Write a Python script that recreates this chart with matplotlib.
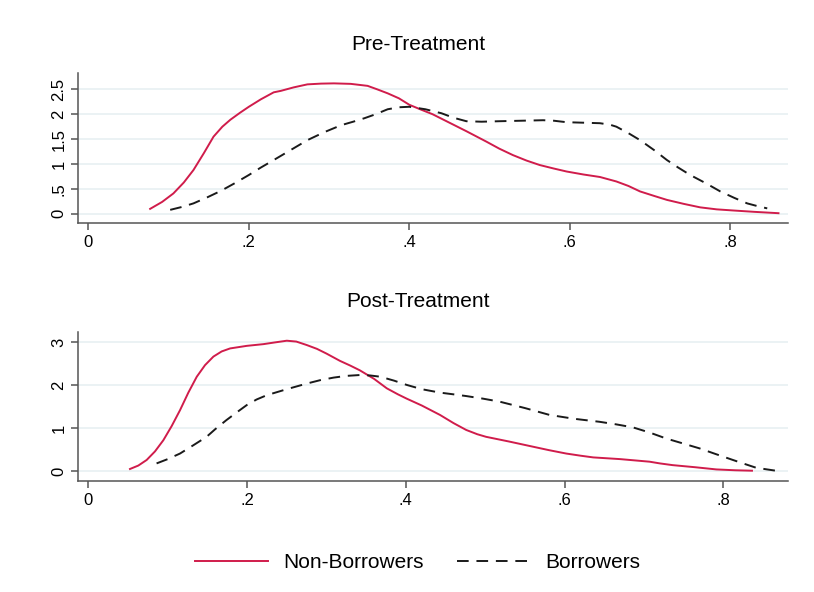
import numpy as np
import matplotlib.pyplot as plt

plt.rcParams['font.family'] = ['Liberation Sans', 'DejaVu Sans']

# Pre-Treatment densities
pre_nb_x = [0.077, 0.092, 0.106, 0.119, 0.131, 0.144, 0.156, 0.167, 0.177, 0.189, 0.200, 0.215,
            0.231, 0.240, 0.256, 0.273, 0.290, 0.306, 0.327, 0.348, 0.360, 0.373, 0.387, 0.400,
            0.415, 0.429, 0.450, 0.471, 0.496, 0.512, 0.529, 0.546, 0.5625, 0.580, 0.596, 0.617,
            0.6375, 0.658, 0.673, 0.6875, 0.705, 0.721, 0.742, 0.7625, 0.783, 0.804, 0.830, 0.860]
pre_nb_y = [0.10, 0.24, 0.41, 0.63, 0.88, 1.22, 1.55, 1.75, 1.89, 2.03, 2.15, 2.30,
            2.44, 2.47, 2.54, 2.60, 2.615, 2.62, 2.61, 2.57, 2.50, 2.42, 2.32, 2.19,
            2.09, 2.00, 1.83, 1.66, 1.45, 1.31, 1.18, 1.07, 0.98, 0.91, 0.85, 0.79,
            0.74, 0.65, 0.56, 0.45, 0.36, 0.28, 0.20, 0.13, 0.09, 0.067, 0.04, 0.013]
pre_b_x = [0.102, 0.117, 0.131, 0.148, 0.165, 0.183, 0.200, 0.215, 0.231, 0.252, 0.273, 0.294,
           0.315, 0.330, 0.344, 0.358, 0.373, 0.387, 0.400, 0.420, 0.440, 0.455, 0.471, 0.490,
           0.5125, 0.540, 0.5667, 0.580, 0.596, 0.617, 0.6375, 0.650, 0.658, 0.673, 0.6875,
           0.705, 0.721, 0.735, 0.750, 0.770, 0.7875, 0.805, 0.821, 0.835, 0.846]
pre_b_y = [0.08, 0.14, 0.21, 0.33, 0.46, 0.62, 0.78, 0.93, 1.08, 1.28, 1.48, 1.64,
           1.78, 1.85, 1.92, 2.00, 2.10, 2.14, 2.15, 2.10, 2.02, 1.93, 1.86, 1.85,
           1.86, 1.87, 1.88, 1.87, 1.84, 1.83, 1.82, 1.79, 1.75, 1.62, 1.48,
           1.28, 1.08, 0.93, 0.78, 0.61, 0.45, 0.32, 0.21, 0.15, 0.11]

# Post-Treatment densities
post_nb_x = [0.0525, 0.063, 0.0735, 0.084, 0.0945, 0.105, 0.1155, 0.126, 0.1366, 0.147, 0.1576,
             0.168, 0.1786, 0.1996, 0.2206, 0.235, 0.250, 0.262, 0.275, 0.288, 0.300, 0.317,
             0.330, 0.342, 0.360, 0.376, 0.390, 0.401, 0.420, 0.443, 0.460, 0.476, 0.490,
             0.501, 0.530, 0.560, 0.580, 0.602, 0.620, 0.636, 0.670, 0.707, 0.720, 0.736,
             0.765, 0.791, 0.815, 0.836]
post_nb_y = [0.05, 0.13, 0.26, 0.46, 0.72, 1.05, 1.42, 1.83, 2.20, 2.47, 2.67,
             2.79, 2.86, 2.92, 2.96, 3.00, 3.04, 3.02, 2.94, 2.85, 2.74, 2.57,
             2.46, 2.35, 2.15, 1.93, 1.79, 1.69, 1.53, 1.31, 1.12, 0.96, 0.86,
             0.80, 0.69, 0.57, 0.49, 0.41, 0.36, 0.32, 0.28, 0.22, 0.18, 0.14,
             0.09, 0.04, 0.02, 0.01]
post_b_x = [0.086, 0.100, 0.1155, 0.132, 0.149, 0.160, 0.174, 0.187, 0.1996, 0.212, 0.2248,
            0.250, 0.275, 0.292, 0.309, 0.325, 0.342, 0.355, 0.368, 0.385, 0.401, 0.420,
            0.443, 0.460, 0.476, 0.497, 0.518, 0.550, 0.581, 0.612, 0.644, 0.665, 0.686,
            0.707, 0.728, 0.750, 0.770, 0.790, 0.812, 0.828, 0.841, 0.855, 0.866]
post_b_y = [0.18, 0.28, 0.41, 0.60, 0.80, 0.98, 1.19, 1.37, 1.54, 1.67, 1.77,
            1.91, 2.04, 2.12, 2.18, 2.22, 2.24, 2.23, 2.20, 2.11, 2.01, 1.91,
            1.83, 1.79, 1.75, 1.69, 1.62, 1.47, 1.31, 1.22, 1.15, 1.09, 1.02,
            0.90, 0.76, 0.64, 0.53, 0.40, 0.26, 0.16, 0.08, 0.04, 0.01]

red = '#d01c4b'
axcol = '#555555'
gridcol = '#e8f0f2'

fig = plt.figure(figsize=(8.14, 5.92), dpi=100)
ax1 = fig.add_axes([0.0962, 0.6228, 0.8715, 0.2532])
ax2 = fig.add_axes([0.0962, 0.1875, 0.8715, 0.2522])

panels = [
    (ax1, pre_nb_x, pre_nb_y, pre_b_x, pre_b_y, (-0.19, 2.82), [0, 0.5, 1, 1.5, 2, 2.5],
     ['0', '.5', '1', '1.5', '2', '2.5'], (-0.0125, 0.8715)),
    (ax2, post_nb_x, post_nb_y, post_b_x, post_b_y, (-0.23, 3.25), [0, 1, 2, 3],
     ['0', '1', '2', '3'], (-0.0126, 0.881)),
]
for ax, nx, ny, bx, by, ylim, yt, ytl, xlim in panels:
    ax.plot(nx, ny, color=red, lw=1.4, label='Non-Borrowers')
    ax.plot(bx, by, color='#1a1a1a', lw=1.4, ls=(0, (6, 4)), label='Borrowers')
    ax.set_ylim(*ylim)
    ax.set_xlim(*xlim)
    ax.set_yticks(yt)
    ax.set_yticklabels(ytl, rotation=90, va='center')
    ax.set_xticks([0, 0.2, 0.4, 0.6, 0.8])
    ax.set_xticklabels(['0', '.2', '.4', '.6', '.8'])
    ax.grid(axis='y', color=gridcol, lw=1.2)
    ax.set_axisbelow(True)
    for s in ['top', 'right']:
        ax.spines[s].set_visible(False)
    for s in ['left', 'bottom']:
        ax.spines[s].set_color(axcol)
        ax.spines[s].set_linewidth(1.1)
    ax.tick_params(colors=axcol, labelcolor='black', length=5, width=1.1, labelsize=12)

fig.text(0.5135, 0.9245, 'Pre-Treatment', ha='center', va='center', fontsize=15)
fig.text(0.5135, 0.4915, 'Post-Treatment', ha='center', va='center', fontsize=15)

h, l = ax1.get_legend_handles_labels()
fig.legend(h, l, loc='center', bbox_to_anchor=(0.513, 0.049), ncol=2, frameon=False,
           fontsize=15, handlelength=3.5, columnspacing=1.6, handletextpad=0.75)

fig.savefig('out.png', dpi=100, facecolor='white')
